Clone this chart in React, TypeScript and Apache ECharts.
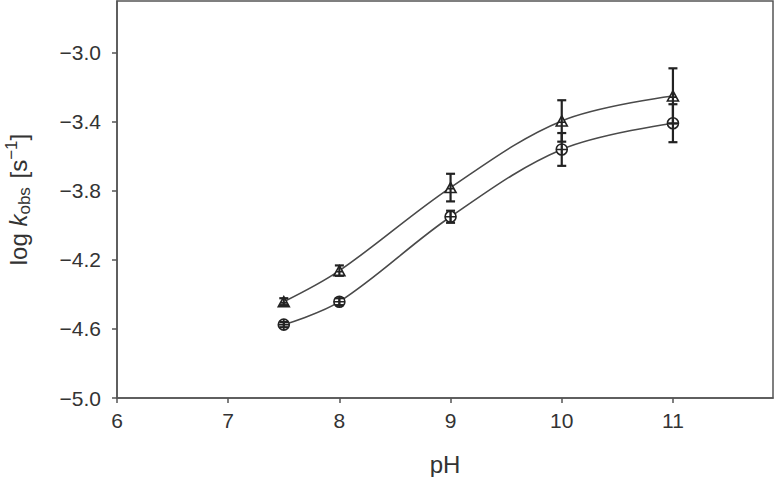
import React, { useEffect, useRef } from "react";
import * as echarts from "echarts";

const phValues = [7.5, 8, 9, 10, 11];
const triangleValues = [-4.442, -4.262, -3.781, -3.395, -3.25];
const triangleErrors = [0.02, 0.03, 0.08, 0.12, 0.16];
const circleValues = [-4.575, -4.442, -3.95, -3.56, -3.408];
const circleErrors = [0.015, 0.02, 0.035, 0.095, 0.11];
const xTicks = [6, 7, 8, 9, 10, 11];
const yTicks = [-5.0, -4.6, -4.2, -3.8, -3.4, -3.0];

const INK = "#333";
const FONT = "Liberation Sans, Arial";
const triSymbol = "path://M0,-6L6,4.5L-6,4.5ZM-3.2,0.5H3.2";
const circSymbol = "path://M0,-5A5,5 0 1,1 0,5A5,5 0 1,1 0,-5ZM-5,0H5M0,-5V5";

function errorData(vals: number[], errs: number[]) {
  return phValues.map((x, i) => [x, vals[i] - errs[i], vals[i] + errs[i]]);
}

function renderError(params: any, api: any) {
  const x = api.value(0);
  const lo = api.coord([x, api.value(1)]);
  const hi = api.coord([x, api.value(2)]);
  const w = 4.5;
  const style = { stroke: "#222", lineWidth: 2.2 };
  return {
    type: "group",
    children: [
      { type: "line", shape: { x1: lo[0], y1: lo[1], x2: hi[0], y2: hi[1] }, style },
      { type: "line", shape: { x1: lo[0] - w, y1: lo[1], x2: lo[0] + w, y2: lo[1] }, style },
      { type: "line", shape: { x1: hi[0] - w, y1: hi[1], x2: hi[0] + w, y2: hi[1] }, style },
    ],
  };
}

export default function App() {
  const ref = useRef<HTMLDivElement>(null);
  useEffect(() => {
    const chart = echarts.init(ref.current!, null, { renderer: "svg" });
    const fmt = (v: number) => v.toFixed(1).replace("-", "\u2212");
    chart.setOption({
      animation: false,
      backgroundColor: "#fff",
      grid: {
        left: 117,
        right: 2,
        top: 1,
        bottom: 79,
        show: true,
        borderColor: "#555",
        borderWidth: 1.5,
        containLabel: false,
        outerBoundsMode: "none",
      },
      xAxis: {
        type: "value",
        min: 6,
        max: 11.9,
        interval: 1,
        name: "pH",
        nameLocation: "middle",
        nameGap: 54,
        nameTextStyle: { fontFamily: FONT, fontSize: 24, color: INK },
        axisLine: { show: true, lineStyle: { color: "#555", width: 1.5 } },
        axisTick: { show: true, length: 5, lineStyle: { color: "#555", width: 1.5 }, customValues: xTicks },
        axisLabel: {
          customValues: xTicks,
          margin: 12,
          fontFamily: FONT,
          fontSize: 21,
          color: INK,
          formatter: (v: number) => String(v),
        },
        splitLine: { show: false },
      },
      yAxis: {
        type: "value",
        min: -5,
        max: -2.7,
        interval: 0.4,
        name: "{t|log }{k|k}{sub|obs}{t| [s}{sup|\u22121}{t|]}",
        nameLocation: "middle",
        nameGap: 84,
        nameRotate: 90,
        nameTextStyle: {
          fontFamily: FONT,
          fontSize: 24,
          color: INK,
          rich: {
            t: { fontFamily: FONT, fontSize: 24, color: INK, lineHeight: 30, verticalAlign: "middle" },
            k: { fontFamily: FONT, fontSize: 24, fontStyle: "italic", color: INK, lineHeight: 30, verticalAlign: "middle" },
            sub: { fontFamily: FONT, fontSize: 17, color: INK, lineHeight: 30, verticalAlign: "bottom", padding: [0, 2, 0, 0] },
            sup: { fontFamily: FONT, fontSize: 17, color: INK, lineHeight: 30, verticalAlign: "top" },
          },
        },
        axisLine: { show: true, lineStyle: { color: "#555", width: 1.5 } },
        axisTick: { show: true, length: 5, lineStyle: { color: "#555", width: 1.5 }, customValues: yTicks },
        axisLabel: {
          customValues: yTicks,
          margin: 16,
          fontFamily: FONT,
          fontSize: 21,
          color: INK,
          formatter: fmt,
        },
        splitLine: { show: false },
      },
      series: [
        {
          type: "line",
          name: "triangle fit",
          data: phValues.map((x, i) => [x, triangleValues[i]]),
          smooth: 0.35,
          symbol: triSymbol,
          symbolSize: [11, 10],
          showSymbol: true,
          lineStyle: { color: "#4a4a4a", width: 1.6 },
          itemStyle: { color: "#fff", borderColor: "#222", borderWidth: 1.6 },
          z: 3,
        },
        {
          type: "line",
          name: "circle fit",
          data: phValues.map((x, i) => [x, circleValues[i]]),
          smooth: 0.35,
          symbol: circSymbol,
          symbolSize: 11,
          showSymbol: true,
          lineStyle: { color: "#4a4a4a", width: 1.6 },
          itemStyle: { color: "#fff", borderColor: "#222", borderWidth: 1.6 },
          z: 3,
        },
        {
          type: "custom",
          name: "triangle error",
          renderItem: renderError,
          data: errorData(triangleValues, triangleErrors),
          encode: { x: 0, y: [1, 2] },
          z: 4,
        },
        {
          type: "custom",
          name: "circle error",
          renderItem: renderError,
          data: errorData(circleValues, circleErrors),
          encode: { x: 0, y: [1, 2] },
          z: 4,
        },
      ],
    });
    return () => chart.dispose();
  }, []);
  return (
    <div
      ref={ref}
      style={{ position: "fixed", left: 0, top: 0, width: 775, height: 477, background: "#fff" }}
    />
  );
}
